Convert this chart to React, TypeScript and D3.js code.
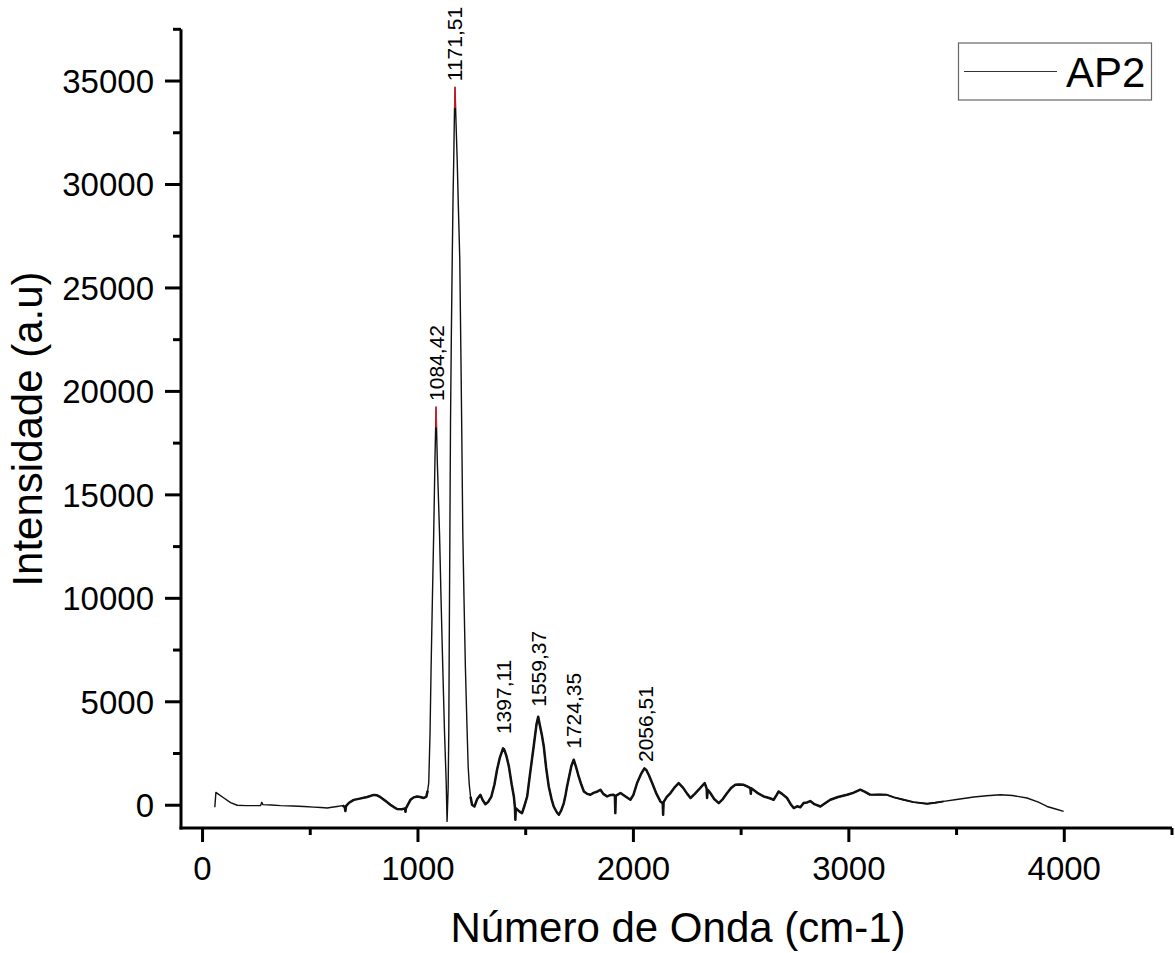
import React from "react";
import * as d3 from "d3";

// Spectrum AP2: wavenumber (cm-1) and intensity (a.u.)
const wavenumbers = [
  57, 62, 70, 99, 130, 161, 200, 269, 275, 280, 320, 362, 420, 470, 516, 550, 579, 600, 625, 650,
  660, 663, 666, 680, 702, 730, 764, 795, 810, 826, 850, 872, 890, 903, 927, 940, 942, 944, 965, 980,
  996, 1010, 1027, 1039, 1045, 1050, 1056, 1061, 1067, 1073, 1079, 1084, 1090, 1100, 1107, 1115, 1123, 1131, 1135, 1140,
  1143, 1145, 1148, 1151, 1155, 1159, 1163, 1166, 1169, 1172, 1176, 1182, 1188, 1194, 1199, 1203, 1208, 1214, 1220, 1227,
  1233, 1238, 1244, 1251, 1262, 1275, 1290, 1300, 1313, 1325, 1340, 1355, 1367, 1380, 1395, 1400, 1410, 1422, 1435, 1445,
  1450, 1452, 1454, 1460, 1470, 1483, 1495, 1507, 1520, 1537, 1550, 1558, 1565, 1575, 1584, 1595, 1607, 1620, 1630, 1645,
  1654, 1665, 1677, 1685, 1692, 1700, 1712, 1723, 1735, 1746, 1758, 1770, 1785, 1800, 1815, 1830, 1847, 1860, 1878, 1895,
  1909, 1914, 1916, 1918, 1940, 1960, 1986, 2000, 2017, 2035, 2051, 2060, 2072, 2087, 2105, 2125, 2136, 2138, 2140, 2155,
  2172, 2190, 2210, 2230, 2250, 2265, 2285, 2303, 2320, 2331, 2340, 2342, 2345, 2357, 2375, 2396, 2415, 2435, 2455, 2473,
  2490, 2512, 2530, 2543, 2545, 2547, 2575, 2605, 2630, 2651, 2665, 2674, 2690, 2713, 2730, 2744, 2760, 2775, 2790, 2806,
  2821, 2840, 2868, 2890, 2914, 2950, 2992, 3020, 3053, 3075, 3100, 3140, 3177, 3210, 3254, 3300, 3363, 3400, 3440, 3500,
  3580, 3640, 3703, 3760, 3827, 3880, 3920, 3960, 3997,
];
const intensities = [
  -100, 620, 560, 350, 130, 0, -20, -20, 140, 30, 10, -20, -40, -60, -90, -110, -135, -100, -60, -20,
  -80, -280, -40, 120, 260, 320, 400, 500, 480, 390, 200, 20, -100, -180, -190, -150, -320, -150, 260, 380,
  420, 400, 350, 420, 700, 1090, 3500, 6700, 10000, 13160, 16800, 19250, 16500, 13160, 10000, 6700, 3600, 1090, -780, 800,
  3500, 7500, 13000, 18500, 22800, 26400, 29500, 31200, 33300, 34700, 33200, 31200, 28700, 26400, 22000, 18300, 13200, 9800, 6700, 4000,
  1860, 1000, 410, 25, -60, 300, 500, 250, 50, 150, 400, 1000, 1715, 2300, 2750, 2700, 2400, 1875, 1000, 425,
  -100, -700, -150, -200, -300, -380, 0, 425, 1500, 2840, 3900, 4280, 3900, 3400, 2840, 1800, 910, 300, -60, -350,
  -460, -250, 105, 500, 910, 1300, 1900, 2200, 1800, 1390, 1000, 665, 550, 505, 600, 650, 750, 550, 425, 500,
  505, 450, -380, 450, 590, 450, 265, 500, 1070, 1500, 1780, 1700, 1450, 1070, 600, 185, 100, -460, 150, 400,
  590, 850, 1070, 850, 550, 350, 550, 750, 950, 1070, 800, 350, 750, 590, 300, 105, 300, 590, 850, 990,
  1000, 990, 900, 830, 550, 820, 600, 425, 350, 265, 500, 665, 550, 350, 50, -135, -50, -100, 105, 135,
  200, 50, -60, 100, 265, 400, 505, 600, 750, 650, 505, 520, 505, 380, 265, 150, 70, 120, 185, 280,
  395, 460, 505, 470, 350, 150, -60, -180, -300,
];

// Noisier stretches of the trace (drawn heavier): [from, to]
const noisyRanges = [
  [650, 1045],
  [1240, 3100],
];
const mediumRanges = [[3100, 3450]];

// Peak labels
const peakPositions = [1084.42, 1171.51, 1397.11, 1559.37, 1724.35, 2056.51];
const peakLabels = ["1084,42", "1171,51", "1397,11", "1559,37", "1724,35", "2056,51"];
const peakHeights = [19250, 34700, 3150, 4470, 2440, 1800];
const markedPeaks = [0, 1];

const xMajorTicks = [0, 1000, 2000, 3000, 4000];
const xMinorTicks = [500, 1500, 2500, 3500, 4500];
const yMajorTicks = [0, 5000, 10000, 15000, 20000, 25000, 30000, 35000];
const yMinorTicks = [2500, 7500, 12500, 17500, 22500, 27500, 32500, 37500];

const xTitle = "Número de Onda (cm-1)";
const yTitle = "Intensidade (a.u)";
const seriesName = "AP2";

export default function App() {
  const W = 1175;
  const H = 953;
  const left = 181;
  const right = 1172;
  const top = 29.3;
  const bottom = 828;
  const font = "'Liberation Sans', Arial, Helvetica, sans-serif";

  const x = d3.scaleLinear().domain([-100, 4500]).range([left, right]);
  const y = d3.scaleLinear().domain([-1100, 37500]).range([bottom, top]);

  const pts: [number, number][] = wavenumbers.map((w, i) => [w, intensities[i]]);
  const line = d3
    .line<[number, number]>()
    .x((d) => x(d[0]))
    .y((d) => y(d[1]));

  const mainPath = line(pts) || "";
  const sub = (ranges: number[][]) =>
    ranges.map(([a, b]) => line(pts.filter((p) => p[0] >= a && p[0] <= b)) || "");
  const noisyPaths = sub(noisyRanges);
  const mediumPaths = sub(mediumRanges);

  return (
    <svg
      width={W}
      height={H}
      style={{ position: "absolute", left: 0, top: 0, display: "block", background: "#fff" }}
      fontFamily={font}
    >
      <rect x={0} y={0} width={W} height={H} fill="#fff" />

      {/* data */}
      <path d={mainPath} fill="none" stroke="#111" strokeWidth={1.4} strokeLinejoin="round" />
      {mediumPaths.map((d, i) => (
        <path key={"m" + i} d={d} fill="none" stroke="#111" strokeWidth={1.9} strokeLinejoin="round" />
      ))}
      {noisyPaths.map((d, i) => (
        <path key={"n" + i} d={d} fill="none" stroke="#111" strokeWidth={2.5} strokeLinejoin="round" />
      ))}

      {/* red peak markers */}
      {markedPeaks.map((i) => (
        <line
          key={i}
          x1={x(peakPositions[i])}
          x2={x(peakPositions[i])}
          y1={y(peakHeights[i])}
          y2={y(peakHeights[i] - 1000)}
          stroke="#e8202a"
          strokeWidth={1.6}
        />
      ))}

      {/* peak labels */}
      {peakPositions.map((p, i) => (
        <text
          key={i}
          transform={`translate(${x(p)},${y(peakHeights[i]) - 6}) rotate(-90)`}
          fontSize={21}
          dy="0.35em"
          textAnchor="start"
          fill="#000"
        >
          {peakLabels[i]}
        </text>
      ))}

      {/* axes */}
      <line x1={left} x2={left} y1={top} y2={bottom + 1.5} stroke="#000" strokeWidth={3} />
      <line x1={left - 1.5} x2={right} y1={bottom} y2={bottom} stroke="#000" strokeWidth={3} />

      {yMajorTicks.map((t) => (
        <g key={"ym" + t}>
          <line x1={left - 16} x2={left} y1={y(t)} y2={y(t)} stroke="#000" strokeWidth={3} />
          <text x={154} y={y(t)} dy="0.36em" textAnchor="end" fontSize={33} fill="#000">
            {t}
          </text>
        </g>
      ))}
      {yMinorTicks.map((t) => (
        <line key={"yn" + t} x1={left - 8} x2={left} y1={y(t)} y2={y(t)} stroke="#000" strokeWidth={3} />
      ))}

      {xMajorTicks.map((t) => (
        <g key={"xm" + t}>
          <line x1={x(t)} x2={x(t)} y1={bottom} y2={bottom + 14} stroke="#000" strokeWidth={3} />
          <text x={x(t)} y={880} textAnchor="middle" fontSize={33} fill="#000">
            {t}
          </text>
        </g>
      ))}
      {xMinorTicks.map((t) => (
        <line key={"xn" + t} x1={x(t)} x2={x(t)} y1={bottom} y2={bottom + 7} stroke="#000" strokeWidth={3} />
      ))}

      {/* axis titles */}
      <text x={678} y={942} textAnchor="middle" fontSize={42} fill="#000">
        {xTitle}
      </text>
      <text transform="translate(42,429) rotate(-90)" textAnchor="middle" fontSize={42} fill="#000">
        {yTitle}
      </text>

      {/* legend */}
      <rect x={958.5} y={43} width={193} height={57} fill="#fff" stroke="#666" strokeWidth={1.2} />
      <line x1={964} x2={1057} y1={71.5} y2={71.5} stroke="#333" strokeWidth={1.2} />
      <text x={1066} y={87} fontSize={42} fill="#000">
        {seriesName}
      </text>
    </svg>
  );
}
